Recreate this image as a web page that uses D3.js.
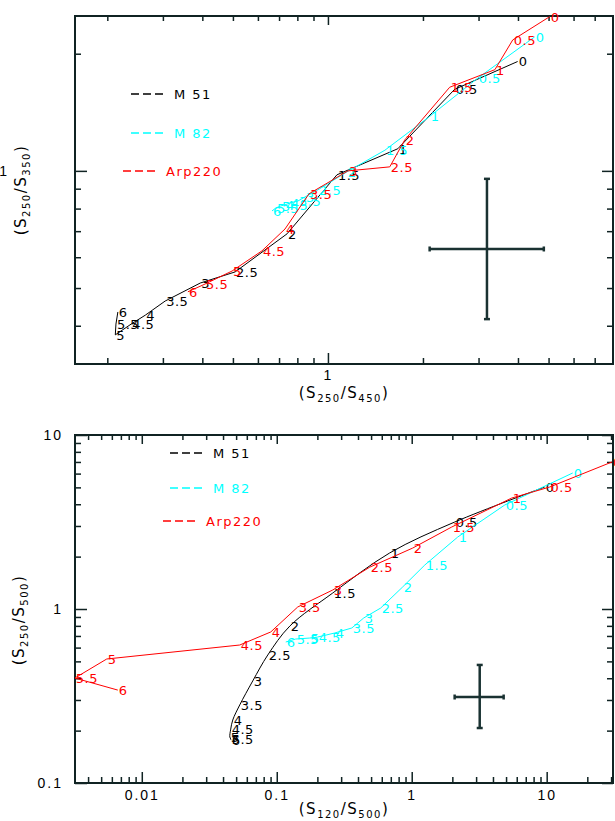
<!DOCTYPE html>
<html>
<head>
<meta charset="utf-8">
<script src="https://cdn.jsdelivr.net/npm/d3@7"></script>
<style>
  body { margin: 0; background: #fff; }
  svg { font-family: "DejaVu Sans", "Liberation Sans", sans-serif; }
  .frame { fill: none; stroke: #102323; stroke-width: 2; }
  .axis path { display: none; }
  .axis line { stroke: #102323; stroke-width: 1.5; }
  .axis text { font-size: 14px; fill: #000; letter-spacing: 2px; }
  .curve { fill: none; stroke-width: 1; }
  .tlabel { font-size: 13px; letter-spacing: 0.5px; }
  .legtext { font-size: 13px; letter-spacing: 1.5px; }
  .err { stroke: #1a3232; stroke-width: 2.5; fill: none; }
</style>
</head>
<body>
<svg id="chart" width="615" height="821"></svg>
<script>
// temperature step labels, same for every track
var stepLabels = ["0", "0.5", "1", "1.5", "2", "2.5", "3", "3.5", "4", "4.5", "5", "5.5", "6"];
var seriesNames = ["M 51", "M 82", "Arp220"];
var seriesColors = ["#000000", "#00ffff", "#ff0000"];

// top panel: x = S250/S450, y = S250/S350
var topM51X = [3.99, 2.52, 1.665, 1.068, 0.742, 0.508, 0.394, 0.305, 0.264, 0.238, 0.212, 0.213, 0.216];
var topM51Y = [1.91, 1.62, 1.14, 0.977, 0.689, 0.550, 0.515, 0.463, 0.426, 0.404, 0.379, 0.404, 0.434];
var topM82X = [4.52, 2.98, 2.10, 1.515, 1.148, 0.930, 0.846, 0.804, 0.758, 0.731, 0.710, 0.684, 0.665];
var topM82Y = [2.21, 1.73, 1.38, 1.13, 0.994, 0.894, 0.857, 0.837, 0.827, 0.818, 0.813, 0.803, 0.789];
var topArpX = [5.04, 3.85, 3.38, 2.43, 1.75, 1.57, 1.157, 0.871, 0.731, 0.618, 0.497, 0.408, 0.360];
var topArpY = [2.49, 2.17, 1.82, 1.64, 1.20, 1.024, 1.0, 0.873, 0.709, 0.623, 0.553, 0.512, 0.489];
var topErrX = [2.10, 3.19, 4.83];
var topErrY = [0.416, 0.630, 0.954];
var topXDomain = [0.158, 8];
var topYDomain = [0.319, 2.5];
var topXMinor = [0.2, 0.3, 0.4, 0.5, 0.6, 0.7, 0.8, 0.9, 2, 3, 4, 5, 6, 7];
var topXMajor = [1];
var topXTickLabels = ["1"];
var topYMinor = [0.4, 0.5, 0.6, 0.7, 0.8, 0.9, 2];
var topYMajor = [1];
var topYTickLabels = ["1"];

// bottom panel: x = S120/S500, y = S250/S500
var botM51X = [9.66, 2.08, 0.687, 0.260, 0.125, 0.0858, 0.0664, 0.0532, 0.0472, 0.0456, 0.0449, 0.0456, 0.0456];
var botM51Y = [5.02, 3.16, 2.10, 1.236, 0.798, 0.544, 0.386, 0.281, 0.230, 0.204, 0.184, 0.179, 0.177];
var botM82X = [15.6, 4.89, 2.19, 1.25, 0.858, 0.589, 0.441, 0.360, 0.269, 0.201, 0.1755, 0.138, 0.1166];
var botM82Y = [6.05, 3.96, 2.59, 1.79, 1.34, 1.013, 0.888, 0.778, 0.728, 0.690, 0.681, 0.672, 0.646];
var botArpX = [30.5, 10.5, 5.50, 1.98, 1.017, 0.489, 0.260, 0.143, 0.0903, 0.0532, 0.00550, 0.00319, 0.00664];
var botArpY = [7.0, 5.02, 4.34, 2.96, 2.24, 1.74, 1.286, 1.027, 0.738, 0.621, 0.516, 0.401, 0.342];
var botErrX = [2.08, 3.19, 4.80];
var botErrY = [0.207, 0.312, 0.477];
var botXDomain = [0.0032, 31];
var botYDomain = [0.1, 10];
var botXMinor = [0.004, 0.005, 0.006, 0.007, 0.008, 0.009, 0.02, 0.03, 0.04, 0.05, 0.06, 0.07, 0.08, 0.09,
                 0.2, 0.3, 0.4, 0.5, 0.6, 0.7, 0.8, 0.9, 2, 3, 4, 5, 6, 7, 8, 9, 20, 30];
var botXMajor = [0.01, 0.1, 1, 10];
var botXTickLabels = ["0.01", "0.1", "1", "10"];
var botYMinor = [0.2, 0.3, 0.4, 0.5, 0.6, 0.7, 0.8, 0.9, 2, 3, 4, 5, 6, 7, 8, 9];
var botYMajor = [0.1, 1, 10];
var botYTickLabels = ["0.1", "1", "10"];

var svg = d3.select("#chart");
var plotLeft = 75;
var plotW = 538;
var plotH = 348;

function zipPoints(xs, ys) {
    return xs.map(function (x, i) { return { x: x, y: ys[i], label: stepLabels[i] }; });
}

function drawPanel(opts) {
    var g = svg.append("g").attr("transform", "translate(" + plotLeft + "," + opts.top + ")");
    var x = d3.scaleLog().domain(opts.xDomain).range([0, plotW]);
    var y = d3.scaleLog().domain(opts.yDomain).range([plotH, 0]);

    var clipId = "clip" + opts.top;
    g.append("clipPath").attr("id", clipId)
        .append("rect").attr("width", plotW).attr("height", plotH);

    //ticks on all four sides, pointing inward
    function addAxis(axisFn, scale, values, size, transform, fmt, pad) {
        var ax = axisFn(scale).tickValues(values).tickSize(-size).tickPadding(pad || 3)
            .tickFormat(fmt || function () { return ""; });
        g.append("g").attr("class", "axis").attr("transform", transform).call(ax);
    }
    var xFmt = function (d) { return opts.xLabels[opts.xMajor.indexOf(d)]; };
    var yFmt = function (d) { return opts.yLabels[opts.yMajor.indexOf(d)]; };
    addAxis(d3.axisBottom, x, opts.xMinor, 6, "translate(0," + plotH + ")");
    addAxis(d3.axisBottom, x, opts.xMajor, 11, "translate(0," + plotH + ")", xFmt, opts.xPad);
    addAxis(d3.axisTop, x, opts.xMinor, 5, "translate(0,0)");
    addAxis(d3.axisTop, x, opts.xMajor, 9, "translate(0,0)");
    addAxis(d3.axisLeft, y, opts.yMinor, 6, "translate(0,0)");
    addAxis(d3.axisLeft, y, opts.yMajor, 12, "translate(0,0)", yFmt, opts.yPad);
    addAxis(d3.axisRight, y, opts.yMinor, 6, "translate(" + plotW + ",0)");
    addAxis(d3.axisRight, y, opts.yMajor, 11, "translate(" + plotW + ",0)");

    g.append("rect").attr("class", "frame").attr("width", plotW).attr("height", plotH);

    var line = d3.line()
        .x(function (d) { return x(d.x); })
        .y(function (d) { return y(d.y); });

    opts.series.forEach(function (s, i) {
        var pts = zipPoints(s[0], s[1]);
        g.append("path")
            .datum(pts)
            .attr("class", "curve")
            .attr("clip-path", "url(#" + clipId + ")")
            .attr("stroke", seriesColors[i])
            .attr("d", line.curve(s[2] ? d3.curveCatmullRom : d3.curveLinear));
        g.selectAll(".lab" + i)
            .data(pts)
            .enter()
            .append("text")
            .attr("class", "tlabel lab" + i)
            .attr("fill", seriesColors[i])
            .attr("x", function (d) { return x(d.x) + 1; })
            .attr("y", function (d) { return y(d.y); })
            .attr("dy", "0.38em")
            .text(function (d) { return d.label; });
    });

    //error cross
    var ex = opts.errX, ey = opts.errY;
    var cx = x(ex[1]), cy = y(ey[1]);
    g.append("line").attr("class", "err")
        .attr("x1", x(ex[0])).attr("x2", x(ex[2])).attr("y1", cy).attr("y2", cy);
    g.append("line").attr("class", "err")
        .attr("x1", cx).attr("x2", cx).attr("y1", y(ey[0])).attr("y2", y(ey[2]));
    [ex[0], ex[2]].forEach(function (v) {
        g.append("line").attr("class", "err").attr("stroke-width", 1.5)
            .attr("x1", x(v)).attr("x2", x(v)).attr("y1", cy - 2.5).attr("y2", cy + 2.5);
    });
    [ey[0], ey[2]].forEach(function (v) {
        g.append("line").attr("class", "err").attr("stroke-width", 1.5)
            .attr("x1", cx - 3).attr("x2", cx + 3).attr("y1", y(v)).attr("y2", y(v));
    });

    //legend
    opts.legend.forEach(function (p, i) {
        svg.append("line")
            .attr("x1", p[0]).attr("x2", p[0] + 33)
            .attr("y1", p[1]).attr("y2", p[1])
            .attr("stroke", seriesColors[i])
            .attr("stroke-width", 1.5)
            .attr("stroke-dasharray", "8,4");
        svg.append("text")
            .attr("class", "legtext")
            .attr("x", p[0] + 43).attr("y", p[1])
            .attr("dy", "0.36em")
            .attr("fill", seriesColors[i])
            .text(seriesNames[i]);
    });

    //axis titles with subscripts
    function title(parent, a, b) {
        var t = parent.append("text").attr("font-size", 15).attr("letter-spacing", "1.5px");
        t.append("tspan").text("(S");
        t.append("tspan").attr("font-size", 10).attr("dy", 4).text(a);
        t.append("tspan").attr("dy", -4).text("/S");
        t.append("tspan").attr("font-size", 10).attr("dy", 4).text(b);
        t.append("tspan").attr("dy", -4).text(")");
        return t;
    }
    title(svg.append("g").attr("transform", "translate(" + opts.xTitle[0] + "," + opts.xTitle[1] + ")"),
        opts.xSub[0], opts.xSub[1]).attr("text-anchor", "middle");
    title(svg.append("g").attr("transform", "translate(" + opts.yTitle[0] + "," + opts.yTitle[1] + ") rotate(-90)"),
        opts.ySub[0], opts.ySub[1]).attr("text-anchor", "middle");
}

drawPanel({
    top: 16,
    xDomain: topXDomain, yDomain: topYDomain,
    xMinor: topXMinor, xMajor: topXMajor, xLabels: topXTickLabels, xPad: 6,
    yMinor: topYMinor, yMajor: topYMajor, yLabels: topYTickLabels, yPad: 66,
    series: [[topM51X, topM51Y], [topM82X, topM82Y], [topArpX, topArpY]],
    errX: topErrX, errY: topErrY,
    legend: [[131, 94], [131, 133], [123, 171]],
    xTitle: [344, 398], xSub: ["250", "450"],
    yTitle: [26, 190], ySub: ["250", "350"]
});

drawPanel({
    top: 435,
    xDomain: botXDomain, yDomain: botYDomain,
    xMinor: botXMinor, xMajor: botXMajor, xLabels: botXTickLabels, xPad: 7,
    yMinor: botYMinor, yMajor: botYMajor, yLabels: botYTickLabels, yPad: 12,
    series: [[botM51X, botM51Y, true], [botM82X, botM82Y], [botArpX, botArpY]],
    errX: botErrX, errY: botErrY,
    legend: [[170, 453], [170, 488], [163, 521]],
    xTitle: [344, 814], xSub: ["120", "500"],
    yTitle: [24, 620], ySub: ["250", "500"]
});
</script>
</body>
</html>
